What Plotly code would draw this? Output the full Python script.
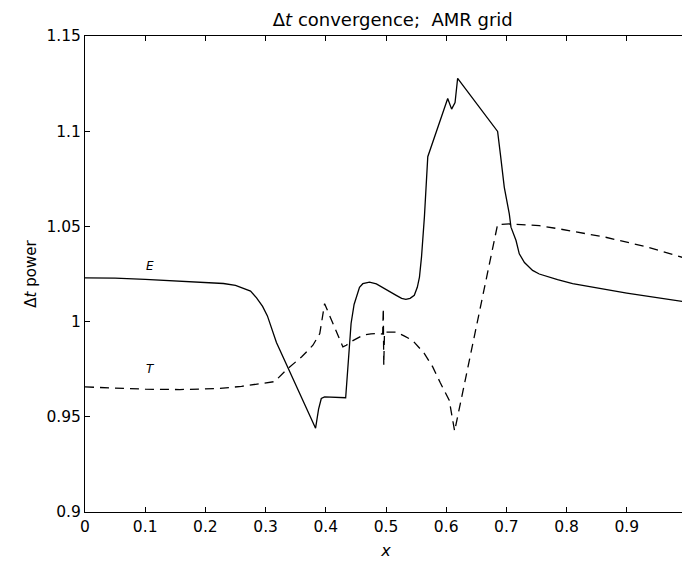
import plotly.graph_objects as go

# E curve (solid)
E_x = [0.0, 0.05, 0.10, 0.15, 0.20, 0.23, 0.25, 0.265, 0.275, 0.285, 0.295, 0.303, 0.310, 0.315, 0.318,
       0.383, 0.388, 0.3925, 0.398, 0.433, 0.4367, 0.442, 0.447, 0.4505, 0.456, 0.4615, 0.4726, 0.484,
       0.4947, 0.506, 0.517, 0.526, 0.533, 0.540, 0.547, 0.552, 0.5556, 0.559, 0.5638, 0.5694,
       0.6025, 0.609, 0.6147, 0.619, 0.6854, 0.690, 0.6965, 0.7048, 0.7076, 0.716, 0.7214, 0.730,
       0.7435, 0.7546, 0.771, 0.785, 0.81, 0.90, 1.0]
E_y = [1.0230, 1.0228, 1.0222, 1.0215, 1.0207, 1.0200, 1.0190, 1.0172, 1.0160, 1.0125, 1.0080, 1.0030,
       0.9970, 0.9920, 0.9890, 0.9440, 0.9540, 0.9596, 0.9605, 0.9600, 0.9780, 0.9990, 1.0090, 1.0130,
       1.0180, 1.0199, 1.0207, 1.0198, 1.0180, 1.0160, 1.0138, 1.0122, 1.0117, 1.0122, 1.0138, 1.0180,
       1.0234, 1.0340, 1.0550, 1.0866, 1.1172, 1.1116, 1.1150, 1.1278, 1.0999, 1.0880, 1.0705, 1.0566,
       1.0496, 1.0426, 1.0356, 1.0310, 1.0269, 1.0250, 1.0233, 1.0220, 1.0199, 1.0150, 1.0102]

# T curve (dashed)
T_x = [0.0, 0.05, 0.10, 0.1575, 0.20, 0.224, 0.26, 0.29, 0.315, 0.337, 0.36, 0.3786, 0.39, 0.398,
       0.4284, 0.434, 0.445, 0.4615, 0.475, 0.4864, 0.4945, 0.4955, 0.4963, 0.4975, 0.517, 0.530,
       0.5445, 0.5638, 0.5776, 0.59, 0.605, 0.614, 0.6854, 0.7048, 0.7546, 0.7877, 0.865, 0.93, 1.0]
T_y = [0.9657, 0.9650, 0.9645, 0.9643, 0.9645, 0.9649, 0.9660, 0.9675, 0.9685, 0.9754, 0.9815, 0.9876,
       0.9937, 1.0094, 0.9867, 0.9876, 0.9900, 0.9928, 0.9936, 0.9937, 0.9935, 1.0070, 0.9770, 0.9945,
       0.9945, 0.9925, 0.9900, 0.9832, 0.9762, 0.9680, 0.9587, 0.9425, 1.0510, 1.0513, 1.0504, 1.0487,
       1.0443, 1.0395, 1.0330]

x_ticks = [0, 0.1, 0.2, 0.3, 0.4, 0.5, 0.6, 0.7, 0.8, 0.9, 1]
x_labels = ["0", "0.1", "0.2", "0.3", "0.4", "0.5", "0.6", "0.7", "0.8", "0.9", "1"]
y_ticks = [0.9, 0.95, 1.0, 1.05, 1.1, 1.15]
y_labels = ["0.9", "0.95", "1", "1.05", "1.1", "1.15"]

curve_labels = ["E", "T"]
label_x = [0.108, 0.108]
label_y = [1.029, 0.975]

FONT = "DejaVu Sans, sans-serif"

fig = go.Figure()
fig.add_trace(go.Scatter(x=E_x, y=E_y, mode="lines",
                         line=dict(color="black", width=1.3), showlegend=False))
fig.add_trace(go.Scatter(x=T_x, y=T_y, mode="lines",
                         line=dict(color="black", width=1.3, dash="9px,6px"), showlegend=False))

for lab, lx, ly in zip(curve_labels, label_x, label_y):
    fig.add_annotation(x=lx, y=ly, text="<i>%s</i>" % lab, showarrow=False,
                       font=dict(family=FONT, size=12, color="black"))

axis_common = dict(showline=True, linecolor="black", linewidth=1, mirror="allticks",
                   ticks="inside", ticklen=5, tickcolor="black", tickwidth=1,
                   showgrid=False, zeroline=False, automargin=False,
                   tickfont=dict(family=FONT, size=15.5, color="black"))

fig.update_xaxes(range=[0, 1], tickvals=x_ticks, ticktext=x_labels,
                 title=dict(text="<i>x</i>", font=dict(family=FONT, size=16, color="black"), standoff=10),
                 **axis_common)
fig.update_yaxes(range=[0.9, 1.15], tickvals=y_ticks, ticktext=y_labels,
                 title=dict(text="Δ<i>t</i> power", font=dict(family=FONT, size=15, color="black"), standoff=6),
                 **axis_common)

fig.update_layout(
    width=690, height=564,
    margin=dict(l=77, r=11, t=28, b=60),
    plot_bgcolor="white", paper_bgcolor="white",
    title=dict(text="Δ<i>t</i> convergence;\u00a0\u00a0AMR grid", x=0.5576, xanchor="center",
               y=0.99, yanchor="top",
               font=dict(family=FONT, size=18, color="black")),
)

fig.write_html("out.html")
